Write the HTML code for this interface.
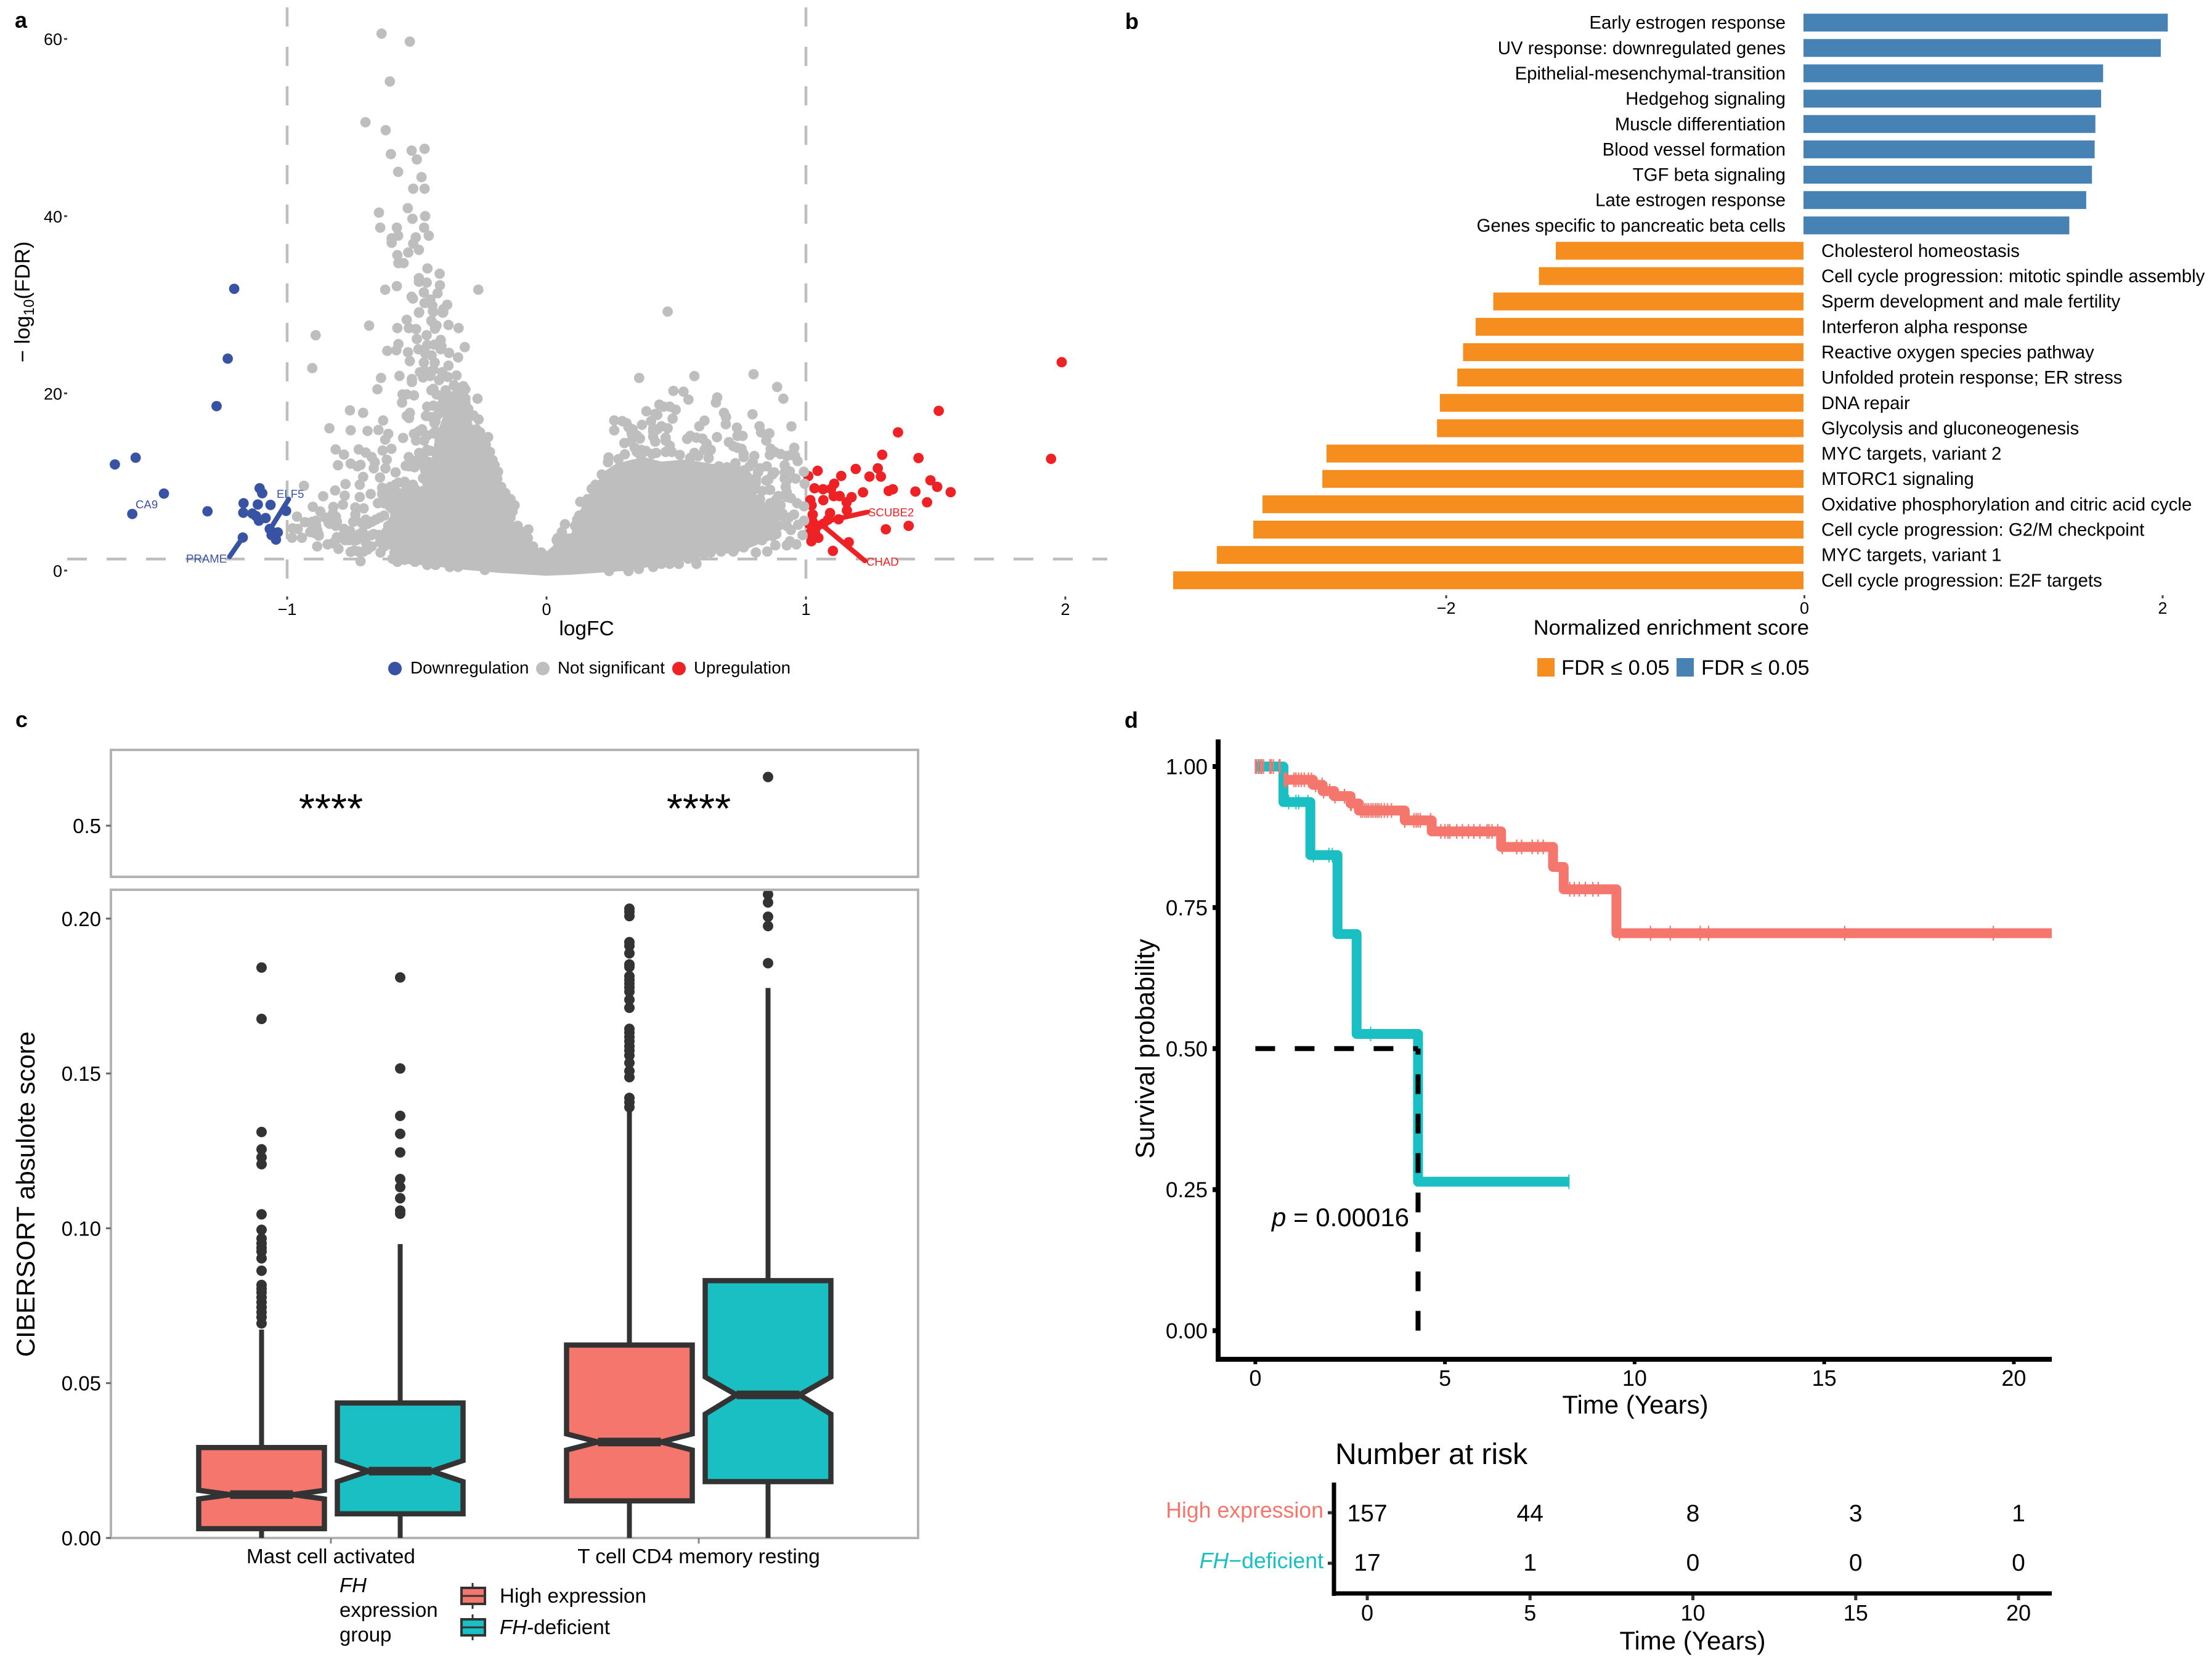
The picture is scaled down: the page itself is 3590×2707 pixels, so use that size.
<!DOCTYPE html>
<html lang="en">
<head>
<meta charset="utf-8">
<title>Panels a-d</title>
<style>
html,body{margin:0;padding:0;background:#fff;}
svg{display:block;}
text{font-family:"Liberation Sans",Arial,sans-serif;fill:#000;}
</style>
</head>
<body>
<svg id="figure" xmlns="http://www.w3.org/2000/svg" width="3590" height="2707" viewBox="0 0 3590 2707">
<rect x="0" y="0" width="3590" height="2707" fill="#fff"/>
<defs>
<clipPath id="boxClip"><rect x="180" y="1446" width="1310" height="1052"/></clipPath>
</defs>

<text x="24" y="45" font-size="36" font-weight="700">a</text>
<text x="1826" y="47" font-size="36" font-weight="700">b</text>
<text x="25" y="1180" font-size="36" font-weight="700">c</text>
<text x="1825" y="1181" font-size="36" font-weight="700">d</text>

<g id="panelA"></g>
<text x="952" y="1031" font-size="33.5" text-anchor="middle">logFC</text>
<text transform="translate(48,490) rotate(-90)" font-size="34.5" text-anchor="middle">− log<tspan font-size="24" dy="7">10</tspan><tspan dy="-7">(FDR)</tspan></text>
<circle cx="641" cy="1085" r="11" fill="#3953a4"/>
<text x="666" y="1093" font-size="27.7">Downregulation</text>
<circle cx="881" cy="1085" r="11" fill="#bebebe"/>
<text x="905" y="1093" font-size="27.7">Not significant</text>
<circle cx="1102" cy="1085" r="11" fill="#ee2124"/>
<text x="1126" y="1093" font-size="27.7">Upregulation</text>

<g id="panelB"></g>
<text x="2936" y="1030" font-size="34.4" text-anchor="end">Normalized enrichment score</text>
<rect x="2495" y="1068" width="28" height="30" fill="#f68d1f"/>
<text x="2534" y="1095" font-size="34.4">FDR ≤ 0.05</text>
<rect x="2721" y="1068" width="28" height="30" fill="#4682b4"/>
<text x="2761" y="1095" font-size="34.4">FDR ≤ 0.05</text>

<g id="panelC"></g>
<text transform="translate(56,1938) rotate(-90)" font-size="42" text-anchor="middle">CIBERSORT absulote score</text>
<text font-size="33"><tspan x="551" y="2584" font-style="italic">FH</tspan><tspan x="551" y="2624">expression</tspan><tspan x="551" y="2664">group</tspan></text>
<g>
<line x1="767" y1="2569" x2="767" y2="2611" stroke="#333" stroke-width="3"/>
<rect x="749" y="2577" width="38" height="26" fill="#f5766d" stroke="#333" stroke-width="4"/>
<line x1="749" y1="2590" x2="787" y2="2590" stroke="#333" stroke-width="3"/>
</g>
<text x="811" y="2601" font-size="33.2">High expression</text>
<g>
<line x1="767" y1="2620" x2="767" y2="2662" stroke="#333" stroke-width="3"/>
<rect x="749" y="2628" width="38" height="26" fill="#1abfc4" stroke="#333" stroke-width="4"/>
<line x1="749" y1="2641" x2="787" y2="2641" stroke="#333" stroke-width="3"/>
</g>
<text x="811" y="2652" font-size="33.2"><tspan font-style="italic">FH</tspan>-deficient</text>

<g id="panelD"></g>
<text transform="translate(1873,1702) rotate(-90)" font-size="42.5" text-anchor="middle">Survival probability</text>
<text x="2654" y="2294" font-size="42" text-anchor="middle">Time (Years)</text>
<text x="2064" y="1990" font-size="42"><tspan font-style="italic">p</tspan> = 0.00016</text>
<text x="2167" y="2376" font-size="48">Number at risk</text>
<text x="2148" y="2463" font-size="35.7" text-anchor="end" style="fill:#f5766d">High expression</text>
<text x="2148" y="2545" font-size="35.7" text-anchor="end" style="fill:#1abfc4"><tspan font-style="italic" style="fill:#1abfc4">FH</tspan>−deficient</text>
<text x="2747" y="2677" font-size="42" text-anchor="middle">Time (Years)</text>
</svg>

<script>
// ---------- Panel a data: [logFC, -log10(FDR)] ----------
const downPoints = [[-1.204,31.8],[-1.229,23.92],[-1.272,18.56],[-1.584,12.74],[-1.664,11.98],[-1.475,8.69],[-1.597,6.39],[-1.307,6.69],[-1.106,9.29],[-1.096,8.73],[-1.168,7.6],[-1.113,7.46],[-1.064,7.41],[-1.169,6.53],[-1.134,6.44],[-1.12,6.16],[-1.109,5.63],[-1.083,5.93],[-1.004,6.74],[-1.067,4.7],[-1.036,4.31],[-1.06,4.01],[-1.043,3.5],[-1.171,3.73]];
const upPoints = [[1.986,23.52],[1.512,18.03],[1.355,15.6],[1.294,13.07],[1.434,12.7],[1.945,12.61],[1.045,11.26],[1.009,10.66],[1.192,11.47],[1.277,11.54],[1.136,10.68],[1.245,10.61],[1.289,10.61],[1.109,9.8],[1.033,9.29],[1.066,9.18],[1.097,9.22],[1.48,10.19],[1.506,9.45],[1.558,8.85],[1.422,8.92],[1.335,9.18],[1.319,8.99],[1.22,8.83],[1.176,8.29],[1.13,8.41],[1.107,8.41],[1.067,7.95],[1.017,7.95],[1.022,7.37],[1.157,7.71],[1.467,7.71],[1.158,6.79],[1.093,6.49],[1.026,6.32],[1.126,5.79],[1.085,5.74],[1.026,5.51],[1.012,5.28],[1.044,5.05],[1.067,5.28],[1.396,5.05],[1.308,4.66],[1.017,4.24],[1.048,3.7],[1.035,4.35],[1.021,3.31],[1.165,3.2],[1.104,2.22]];
const notSigPoints = [[-.636,60.6],[-.527,59.7],[-.604,55.2],[-.698,50.6],[-.62,49.7],[-.6,47],[-.52,47.4],[-.47,47.6],[-.5,46.4],[-.572,45],[-.482,44.4],[-.514,43.1],[-.47,43.1],[-.535,40.9],[-.646,40.4],[-.517,39.7],[-.468,40],[-.641,38.7],[-.577,38.7],[-.472,38.7],[-.572,37.8],[-.597,37.5],[-.597,37],[-.454,37.8],[-.504,37.6],[-.514,36.9],[-.492,36.2],[-.533,35.9],[-.575,35.6],[-.571,34.7],[-.551,34.7],[-.459,34.1],[-.412,33.5],[-.492,33],[-.492,32.6],[-.462,32.5],[-.411,32.2],[-.577,32.1],[-.622,31.7],[-.263,31.7],[-.473,31.4],[-.42,31.3],[-.52,30.9],[-.515,30.7],[-.448,30.6],[-.47,30.2],[-.44,29.9],[-.383,30],[-.398,29.5],[-.4,29.1],[-.436,29.2],[-.492,29.1],[-.539,28.3],[-.444,28.2],
[-.89,26.56],[-.684,27.65],[-.903,22.85],[-.491,29.16],[-.438,29.27],[-.398,29.16],[-.442,28.1],[-.575,27.37],[-.531,27.37],[-.503,27.26],[-.424,27.65],[-.43,27.3],[-.378,27.72],[-.339,27.37],[-.462,26.56],[-.5,26.14],[-.408,26.03],[-.46,25.45],[-.432,25.5],[-.405,25.33],[-.408,24.98],[-.315,25.22],[-.571,25.56],[-.579,24.87],[-.614,24.8],[-.534,24.64],[-.494,24.98],[-.376,24.57],[-.341,24.06],[-.468,24.52],[-.443,24.29],[-.527,23.64],[-.473,23.48],[-.431,23.48],[-.378,23.13],[-.488,22.39],[-.469,22.55],[-.436,22.67],[-.402,22.39],[-.347,22.02],[-.476,21.79],[-.448,21.97],[-.381,21.85],[-.414,21.51],[-.638,21.74],[-.567,21.97],[-.519,21.62],[-.519,21.28],[-.652,20.46],[-.436,20.51],[-.357,20.93],[-.321,20.81],[-.313,20.46],[-.389,20.35],[-.266,19.4],[-.555,19.88],[-.511,19.77],[-.539,19.88],[-.557,18.96],[-.404,19.65],[-.365,19.65],[-.313,19.42],[-.313,18.96],[-.46,18.5],[-.436,18.61],[-.381,18.72],[-.341,18.5],[-.758,18.08],[-.707,17.8],[-.527,17.8],[-.539,17.45],[-.53,17.22],[-.465,17.45],[-.412,17.8],[-.333,17.8],[-.282,17.52],[-.262,17.06],[-.63,16.94],[-.381,17.1],[-.428,16.87],[-.837,16.06],[-.755,15.83],[-.648,15.87],[-.69,15.76],[-.61,15.43],[-.622,14.78],[-.553,14.97],[-.511,15.43],[-.48,15.94],[-.503,14.67],[-.472,14.67],[-.428,15.71],[-.381,16.18],[-.341,16.06],[-.298,15.6],[-.256,15.6],[-.225,15.06],[-.412,14.44],[-.813,13.67],[-.781,13.09],[-.724,13.67],[-.697,13.32],[-.674,12.81],[-.662,12.23],[-.632,13.55],[-.598,13.74],[-.616,12.51],[-.804,11.89],[-.755,12.07],[-.729,11.77],[-.717,11.93],[-.666,11.54],[-.621,11.54],[-.531,12.81],[-.491,13.28],[-.448,13.51],[-.507,12.35],[-.543,11.82],[-.509,11.66],[-.464,12.35],[-.582,11.08],[-.476,10.43],[-.642,10.5],[-.707,10.57],[-.2,11.89],[-.187,11.15],[-.935,9.57],[-.775,9.76],[-.72,9.69],[-.815,9.04],[-.861,8.39],[-.778,8.46],[-.72,8.3],[-.678,8.64],[-.583,9.69],[-.547,10.03],[-.515,9.69],[-.618,9.1],[-.634,8.64],[-.901,7.2],[-.872,6.67],[-.822,7.18],[-.785,7.44],[-.737,7.13],[-.705,7.02],[-.65,7.6],[-.962,6.09],[-.931,5.47],[-.888,5.63],[-.836,5.98],[-.812,6.09],[-.737,5.75],[-.697,5.75],[-.658,5.75],[-.626,6.21],[-.575,5.86],[-.979,4.77],[-.959,4.7],[-.911,4.35],[-.884,4.58],[-.84,5.4],[-.812,5.05],[-.781,4.7],[-.757,4.47],[-.721,4.12],[-.674,4.01],[-.618,4.35],[-.571,3.66],[-.981,3.7],[-.943,3.7],[-.878,3.94],[-.808,3.77],[-.777,3.66],[-.745,3.43],[-.697,3.2],[-.642,3.2],[-.61,2.96],[-.884,2.73],[-.844,2.96],[-.802,2.45],[-.755,2.11],[-.725,2.15],[-.69,2.38],[-.64,2.04],[-.717,1.06],[-.575,.99],[-.586,2.04],[-.07,4.64],[-.052,2.62],[-.017,1.92],
[.467,29.23],[.357,21.74],[.57,21.95],[.798,22.16],[.889,20.72],[.913,19.4],[.489,20.28],[.528,20.19],[.547,19.3],[.658,19.54],[.653,18.96],[.435,18.73],[.385,17.98],[.498,18.15],[.475,18.5],[.451,18.5],[.684,17.8],[.692,17.33],[.794,17.64],[.419,17.68],[.486,17.15],[.261,16.94],[.292,16.87],[.368,16.45],[.411,16],[.261,15.83],[.316,16.18],[.443,16.29],[.467,16.06],[.609,16.92],[.589,16.29],[.691,16.52],[.821,16.29],[.944,16.27],[.734,16.13],[.859,15.48],[.827,15.6],[.756,15.2],[.736,15.2],[.328,15.48],[.36,14.9],[.411,15.13],[.542,14.86],[.554,15.2],[.601,14.9],[.657,15.06],[.847,14.67],[.3,14.39],[.459,14.67],[.703,14.5],[.72,14.04],[.752,13.74],[.76,12.81],[.633,13.63],[.864,13.74],[.861,13.05],[.955,13.86],[.902,13.16],[.942,13.05],[.968,12.35],[.801,12.93],[.514,13.05],[.57,13.28],[.625,12.7],[.423,13.28],[.383,13.51],[.348,13.39],[.302,13.12],[.239,12.77],[.237,12.23],[.277,12.58],[.475,13.63],[.918,11.89],[.938,11.19],[.849,11.77],[.992,11.15],[.878,11.08],[.96,10.38],[.995,9.8],[.847,10.15],[.918,10.38],[.922,9.45],[.859,9.11],[.926,8.87],[.894,8.41],[.942,8.18],[.966,7.6],[.993,7.25],[.894,7.48],[.954,6.32],[.918,5.98],[.993,5.63],[.97,5.17],[.942,4.58],[.987,4],[.886,4.12],[.831,3.43],[.882,2.85],[.926,2.85],[.938,3.31],[.963,2.96],[.851,2.15],[.807,2.04],[.76,2.62],[.72,2.15],[.673,2.15],[.578,.76],[.51,.76],[.546,1.34],[.443,.76],[.13,7.76],[.071,5.23],[.059,4.35],[.043,3.66],[.118,5.74],[.201,9.57],[.225,10.61],[.807,10.38],[.807,9.22],[.859,6.09],[.823,11.54],[.728,12.12],[.665,11.77],[.696,11.66]];
const notSigCrowdedLeft = [[-.444,20.35],[-.424,19.88],[-.444,17.33],[-.42,17.57],[-.432,16.64],[-.404,18.73],[-.492,15.71],[-.46,15.25],[-.436,15.48],[-.412,14.78],[-.302,18.26],[-.298,17.33],[-.317,19.19],[-.333,20.35],[-.349,20.7],[-.325,16.64],[-.27,15.94],[-.242,14.78],[-.234,14.2],[-.218,13.39],[-.208,12.47],[-.19,10.38],[-.175,9.45],[-.159,8.76],[-.139,8.06],[-.123,7.37],[-.131,6.67],[-.139,5.98],[-.111,5.05],[-.092,4.35],[-.072,3.66],[-.052,2.73],[-.02,2.04],[-.46,13.63],[-.476,12.93],[-.452,12.23],[-.491,12],[-.468,11.31],[-.444,11.08],[-.46,9.92],[-.444,10.38],[-.523,12.35],[-.531,11.77],[-.634,9.34],[-.602,9.45],[-.571,9.92],[-.539,9.45],[-.507,9.22],[-.476,8.99],[-.618,8.53],[-.586,8.76],[-.555,8.64],[-.523,8.29],[-.491,8.06],[-.626,7.6],[-.594,7.83],[-.563,7.6],[-.531,7.37],[-.571,7.02],[-.539,6.67],[-.911,5.4],[-.888,5.05],[-.852,5.98],[-.836,5.28],[-.824,6.44],[-.808,5.51],[-.769,4.47],[-.753,4.01],[-.785,3.89],[-.812,3.43],[-.824,3.08],[-.737,6.32],[-.745,5.51],[-.713,5.4],[-.689,5.28],[-.674,5.51],[-.642,5.98],[-.709,4.35],[-.697,3.89],[-.666,4.12],[-.646,4.01],[-.626,4.01],[-.61,4.35],[-.61,3.42],[-.626,2.73],[-.674,2.73],[-.693,2.62],[-.705,2.15],[-.741,2.27],[-.777,3.43],[-.761,3.43],[-.733,3.43],[-.594,5.51],[-.61,5.05],[-.594,4.58],[-.575,4.12],[-.575,3.2],[-.594,1.34],[-.547,1.22],[-.507,.99],[-.46,.64],[-.428,.64],[-.373,.41],[-.341,.41],[-.238,.07],[-.895,4.24],[-.879,4.12],[-.903,5.51]];
const notSigCrowdedRight = [[.427,17.57],[.403,16.87],[.427,15.94],[.411,15.71],[.419,14.55],[.459,15],[.475,14.09],[.483,13.39],[.459,13.39],[.308,16.64],[.332,15.94],[.348,15.25],[.324,14.55],[.34,13.86],[.364,13.63],[.407,13.16],[.364,12.93],[.577,15],[.617,14.32],[.609,13.63],[.585,12.93],[.554,12.7],[.625,13.39],[.76,13.16],[.736,13.86],[.879,13.39],[.926,12.93],[.958,12.93],[.795,12.23],[.783,11.77],[.728,12],[.76,11.31],[.815,11.08],[.807,9.92],[.871,10.84],[.855,10.26],[.918,11.08],[.926,10.15],[.831,8.99],[.862,9.11],[.823,8.06],[.862,7.6],[.886,8.06],[.926,8.29],[.902,7.37],[.871,6.9],[.91,6.44],[.934,5.98],[.894,5.05],[.871,5.51],[.926,5.05],[.862,4.58],[.871,3.89],[.847,3.89],[.831,4.35],[.791,3.43],[.768,2.96],[.728,2.5],[.696,2.5],[.633,2.04],[.609,1.92],[.57,1.46],[.49,.99],[.475,.76],[.411,.41],[.356,.18],[.316,-.05],[.241,-.05],[.174,9.22],[.189,9.69],[.213,10.84],[.158,8.06],[.126,6.21],[.11,5.05],[.039,3.43]];
// Outline of the region where grey points overlap into a solid mass
const denseRegionOutline = [[-.428,14.78],[-.397,17.33],[-.412,19.65],[-.381,20.23],[-.325,19.88],[-.309,18.03],[-.286,16.41],[-.254,14.78],[-.234,13.86],[-.21,12.93],[-.206,11.77],[-.179,9.69],[-.151,8.76],[-.12,7.37],[-.131,5.51],[-.104,5.05],[-.068,3.89],[-.064,2.73],[-.016,2.04],[-.001,2.04],[.027,2.73],[.039,4.12],[.098,4.12],[.106,5.28],[.142,7.37],[.17,8.76],[.197,9.92],[.221,11.08],[.269,12],[.332,12.47],[.379,12.7],[.443,12.23],[.538,12.47],[.633,12],[.728,11.77],[.783,11.08],[.81,10],[.8,8.76],[.84,7.6],[.9,7],[.91,6],[.87,5],[.87,3.66],[.78,2.6],[.649,2.04],[.593,1.57],[.475,.88],[.316,.07],[.094,-.4],[-.001,-.51],[-.191,-.17],[-.341,.23],[-.46,.64],[-.571,.88],[-.595,2.04],[-.603,4.12],[-.6,6.44],[-.642,7.6],[-.634,9.22],[-.46,9.22],[-.444,12]];
const volcanoXTicks = [-1,0,1,2];
const volcanoYTicks = [0,20,40,60];
const fdrThreshold = [1.3];
const logfcThresholds = [-1,1];
const geneLabels = ['CA9','ELF5','PRAME','SCUBE2','CHAD'];

// ---------- Panel b data ----------
const upPathways = ['Early estrogen response','UV response: downregulated genes','Epithelial-mesenchymal-transition','Hedgehog signaling','Muscle differentiation','Blood vessel formation','TGF beta signaling','Late estrogen response','Genes specific to pancreatic beta cells'];
const upScores = [2.027,1.988,1.667,1.656,1.624,1.62,1.605,1.573,1.479];
const downPathways = ['Cholesterol homeostasis','Cell cycle progression: mitotic spindle assembly','Sperm development and male fertility','Interferon alpha response','Reactive oxygen species pathway','Unfolded protein response; ER stress','DNA repair','Glycolysis and gluconeogenesis','MYC targets, variant 2','MTORC1 signaling','Oxidative phosphorylation and citric acid cycle','Cell cycle progression: G2/M checkpoint','MYC targets, variant 1','Cell cycle progression: E2F targets'];
const downScores = [-1.378,-1.472,-1.726,-1.824,-1.894,-1.926,-2.023,-2.039,-2.654,-2.677,-3.01,-3.061,-3.264,-3.507];
const nesTicks = [-2,0,2];

// ---------- Panel c data ----------
const cellTypes = ['Mast cell activated','T cell CD4 memory resting'];
const boxGroups = ['high','deficient','high','deficient'];
const boxCategory = [0,0,1,1];
const boxLowerWhisker = [0,0,0,0];
const boxQ1 = [.003,.0078,.012,.0182];
const boxNotchLow = [.0126,.0182,.0284,.04];
const boxMedian = [.014,.0216,.031,.0462];
const boxNotchHigh = [.0154,.025,.0336,.052];
const boxQ3 = [.0292,.0436,.0623,.0831];
const boxUpperWhisker = [.0673,.0949,.1397,.1776];
const outliersMastHigh = [.1842,.1676,.1311,.1255,.1229,.1207,.1045,.0995,.0967,.0951,.0937,.0925,.0903,.0863,.0817,.0805,.0793,.0777,.0761,.0745,.0729,.0713,.0693];
const outliersMastDef = [.181,.1516,.1363,.1305,.1245,.1159,.1133,.1097,.1057,.1047];
const outliersCD4High = [.2032,.2022,.2008,.1924,.1912,.1888,.1852,.1844,.1814,.1802,.179,.1778,.1764,.1738,.1712,.1644,.1632,.1618,.1604,.1588,.1574,.1558,.1534,.1508,.1488,.1421,.1407,.1391];
const outliersCD4Def = [.2078,.2052,.2006,.1976,.1856];
const outlierTopPanel = [.66];
const boxYTicks = [0,.05,.10,.15,.20];
const boxTopTicks = [.5];
const significance = ['****','****'];

// ---------- Panel d data ----------
const highTimes = [0,.75,1.52,1.775,2.08,2.51,2.73,3.94,4.65,6.48,7.85,8.13,9.52];
const highSurvival = [1,.9765,.9675,.9565,.9475,.9345,.922,.9045,.885,.8575,.822,.7824,.7045];
const highEndTime = [21];
const defTimes = [0,.74,1.45,2.166,2.67,4.29];
const defSurvival = [1,.937,.843,.703,.526,.264];
const defEndTime = [8.27];
const highCensored = [0,.015,.075,.14,.17,.215,.38,.42,.475,.63,.65,.76,.78,.8,.82,1.02,1.07,1.14,1.21,1.29,1.4,1.48,1.59,1.76,1.8,1.96,2.1,2.35,2.51,2.53,2.78,2.83,2.89,2.94,2.99,3.05,3.1,3.16,3.21,3.26,3.32,3.4,3.48,3.59,3.94,4.18,4.24,4.29,4.35,4.62,4.89,5,5.08,5.13,5.31,5.46,5.62,5.76,5.92,6.11,6.16,6.24,6.39,6.51,6.89,7.02,7.3,7.45,7.59,8.29,8.41,8.54,8.7,8.9,9.04,9.6,10.42,10.94,11.73,11.95,15.54,19.46];
const defCensored = [.03,.1,.88,1.07,1.14,1.385,1.53,1.94,2.03,3.04,8.27];
const medianTime = [4.29];
const medianSurvival = [.5];
const survYTicks = [0,.25,.5,.75,1];
const survXTicks = [0,5,10,15,20];
const riskHigh = [157,44,8,3,1];
const riskDeficient = [17,1,0,0,0];

// ---------- Helpers ----------
const NS = 'http://www.w3.org/2000/svg';
function make(parent, tag, attrs, content) {
  const el = document.createElementNS(NS, tag);
  for (const k in attrs) el.setAttribute(k, attrs[k]);
  if (content !== undefined) el.textContent = content;
  parent.appendChild(el);
  return el;
}
const pathFrom = pts => pts.map((p, i) => (i ? 'L' : 'M') + p[0].toFixed(2) + ' ' + p[1].toFixed(2)).join(' ');

// ---------- Panel a ----------
const gA = document.getElementById('panelA');
const ax = v => 887 + 421 * v;
const ay = v => 926 - 14.38 * v;
const DOT_R = 8.4;
fdrThreshold.forEach(v => {
  const l = make(gA, 'line', {x1: 109, x2: 1797, y1: ay(v), y2: ay(v), stroke: '#bebebe', 'stroke-width': 4.5, 'stroke-dasharray': '32 32'});
  
  
});
logfcThresholds.forEach(v => {
  const l = make(gA, 'line', {x1: ax(v), x2: ax(v), y1: 12, y2: 968, stroke: '#bebebe', 'stroke-width': 4.5, 'stroke-dasharray': '31 33'});
  
  
});
volcanoYTicks.forEach(v => {
  const t = make(gA, 'rect', {x: 104, y: ay(v) - 1.5, width: 5, height: 3, fill: '#444'});
  
  
  const s = make(gA, 'text', {x: 101, y: ay(v) + 10, 'font-size': 27, 'text-anchor': 'end'}, String(v));
  
  
});
volcanoXTicks.forEach(v => {
  const t = make(gA, 'rect', {x: ax(v) - 1.5, y: 968, width: 3, height: 5, fill: '#444'});
  
  
  const s = make(gA, 'text', {x: ax(v), y: 998, 'font-size': 27, 'text-anchor': 'middle'}, String(v).replace('-', '−'));
  
  
});
upPoints.forEach(p => {
  const c = make(gA, 'circle', {cx: ax(p[0]), cy: ay(p[1]), r: DOT_R, fill: '#ee2124'});
  
  
});
downPoints.forEach(p => {
  const c = make(gA, 'circle', {cx: ax(p[0]), cy: ay(p[1]), r: DOT_R, fill: '#3953a4'});
  
  
});
const dense = make(gA, 'path', {d: pathFrom(denseRegionOutline.map(p => [ax(p[0]), ay(p[1])])) + ' Z', fill: '#bebebe', stroke: '#bebebe', 'stroke-width': 2, 'stroke-linejoin': 'round'});


notSigPoints.concat(notSigCrowdedLeft, notSigCrowdedRight).forEach(p => {
  const c = make(gA, 'circle', {cx: ax(p[0]), cy: ay(p[1]), r: DOT_R, fill: '#bebebe'});
  
  
});
// connector lines: gene point to label
const conn = [
  [[-1.171,3.73],[-1.222,1.57],'#3953a4'],
  [[-.994,8.06],[-1.065,4.7],'#3953a4'],
  [[1.071,5.51],[1.237,6.6],'#ee2124'],
  [[1.071,4.93],[1.227,1.11],'#ee2124']
];
conn.forEach(c => {
  const l = make(gA, 'line', {x1: ax(c[0][0]), y1: ay(c[0][1]), x2: ax(c[1][0]), y2: ay(c[1][1]), stroke: c[2], 'stroke-width': 8, 'stroke-linecap': 'round'});
  
  
});
const labelSpots = [[220,825,'#3953a4'],[449,808,'#3953a4'],[302,913,'#3953a4'],[1409,838,'#ee2124'],[1406,918,'#ee2124']];
geneLabels.forEach((g, i) => {
  const s = make(gA, 'text', {x: labelSpots[i][0], y: labelSpots[i][1], 'font-size': 18.6, style: 'fill:' + labelSpots[i][2]}, g);
  
  
});

// ---------- Panel b ----------
const gB = document.getElementById('panelB');
const bx = v => 2927 + 291.7 * v;
const tickX = v => 2928.5 + 290.7 * v;
const rowY = i => 36.7 + 41.14 * i;
upScores.forEach((v, i) => {
  const r = make(gB, 'rect', {x: bx(0), y: rowY(i) - 14.5, width: bx(v) - bx(0), height: 29, fill: '#4682b4'});
  
  
  const s = make(gB, 'text', {x: 2898, y: rowY(i) + 10, 'font-size': 29.4, 'text-anchor': 'end'}, upPathways[i]);
  
  
});
downScores.forEach((v, i) => {
  const y = rowY(i + upScores.length);
  const r = make(gB, 'rect', {x: bx(v), y: y - 14.5, width: bx(0) - bx(v), height: 29, fill: '#f68d1f'});
  
  
  const s = make(gB, 'text', {x: 2956, y: y + 10, 'font-size': 29.4}, downPathways[i]);
  
  
});
nesTicks.forEach(v => {
  const t = make(gB, 'rect', {x: tickX(v) - 1.5, y: 966, width: 3, height: 5, fill: '#444'});
  
  
  const s = make(gB, 'text', {x: tickX(v), y: 996, 'font-size': 27, 'text-anchor': 'middle'}, String(v).replace('-', '−'));
  
  
});

// ---------- Panel c ----------
const gC = document.getElementById('panelC');
const cy = v => 2496 - 5026 * v;
const cyTop = v => 1340 - 494 * (v - .5);
const catX = i => 537 + 597 * i;
const boxX = i => catX(boxCategory[i]) + (boxGroups[i] === 'high' ? -112.5 : 112.5);
const frameTop = make(gC, 'rect', {x: 180, y: 1217, width: 1310, height: 206, fill: 'none', stroke: '#b3b3b3', 'stroke-width': 4});


const frameBottom = make(gC, 'rect', {x: 180, y: 1444, width: 1310, height: 1052, fill: 'none', stroke: '#b3b3b3', 'stroke-width': 4});


boxYTicks.forEach(v => {
  const t = make(gC, 'line', {x1: 172, x2: 180, y1: cy(v), y2: cy(v), stroke: '#666', 'stroke-width': 3});
  
  
  const s = make(gC, 'text', {x: 164, y: cy(v) + 12, 'font-size': 33, 'text-anchor': 'end'}, v.toFixed(2));
  
  
});
boxTopTicks.forEach(v => {
  const t = make(gC, 'line', {x1: 172, x2: 180, y1: cyTop(v), y2: cyTop(v), stroke: '#666', 'stroke-width': 3});
  
  
  const s = make(gC, 'text', {x: 164, y: cyTop(v) + 12, 'font-size': 33, 'text-anchor': 'end'}, v.toFixed(1));
  
  
});
cellTypes.forEach((c, i) => {
  const t = make(gC, 'line', {x1: catX(i), x2: catX(i), y1: 2496, y2: 2505, stroke: '#888', 'stroke-width': 3});
  
  
  const s = make(gC, 'text', {x: catX(i), y: 2537, 'font-size': 33.3, 'text-anchor': 'middle'}, c);
  
  
  const star = make(gC, 'text', {x: catX(i), y: 1335, 'font-size': 67, 'text-anchor': 'middle'}, significance[i]);
  
  
});
const allOutliers = [outliersMastHigh, outliersMastDef, outliersCD4High, outliersCD4Def];
const clipG = make(gC, 'g', {'clip-path': 'url(#boxClip)'});


boxMedian.forEach((m, i) => {
  const x = boxX(i), hw = 102, nw = 51;
  const fill = boxGroups[i] === 'high' ? '#f5766d' : '#1abfc4';
  const wu = make(clipG, 'line', {x1: x, x2: x, y1: cy(boxQ3[i]), y2: cy(boxUpperWhisker[i]), stroke: '#333', 'stroke-width': 8});
  
  
  const wl = make(clipG, 'line', {x1: x, x2: x, y1: cy(boxQ1[i]), y2: cy(boxLowerWhisker[i]), stroke: '#333', 'stroke-width': 8});
  
  
  const pts = [[x-hw,cy(boxQ3[i])],[x+hw,cy(boxQ3[i])],[x+hw,cy(boxNotchHigh[i])],[x+nw,cy(m)],[x+hw,cy(boxNotchLow[i])],[x+hw,cy(boxQ1[i])],[x-hw,cy(boxQ1[i])],[x-hw,cy(boxNotchLow[i])],[x-nw,cy(m)],[x-hw,cy(boxNotchHigh[i])]];
  const b = make(clipG, 'path', {d: pathFrom(pts) + ' Z', fill: fill, stroke: '#333', 'stroke-width': 8.5, 'stroke-linejoin': 'miter'});
  
  
  const med = make(clipG, 'line', {x1: x-nw, x2: x+nw, y1: cy(m), y2: cy(m), stroke: '#333', 'stroke-width': 14});
  
  
  allOutliers[i].forEach(v => {
    const c = make(clipG, 'circle', {cx: x, cy: cy(v), r: 8.5, fill: '#333'});
    
    
  });
});
outlierTopPanel.forEach(v => {
  const c = make(gC, 'circle', {cx: boxX(3), cy: cyTop(v), r: 8.5, fill: '#333'});
  
  
});

// ---------- Panel d ----------
const gD = document.getElementById('panelD');
const dx = t => 2037.4 + 61.55 * t;
const dy = s => 2159.5 - 915.5 * s;
const stepAt = (times, surv, t) => { let v = surv[0]; times.forEach((tt, i) => { if (t >= tt) v = surv[i]; }); return v; };
function stepPath(times, surv, end) {
  const pts = [];
  times.forEach((t, i) => {
    if (i) pts.push([dx(t), dy(surv[i - 1])]);
    pts.push([dx(t), dy(surv[i])]);
  });
  pts.push([dx(end), dy(surv[surv.length - 1])]);
  return pathFrom(pts);
}
const CURVE_W = 16;
const highStart = make(gD, 'line', {x1: dx(highTimes[0]), x2: dx(highTimes[1]), y1: dy(highSurvival[0]), y2: dy(highSurvival[0]), stroke: '#f5766d', 'stroke-width': CURVE_W});


const defCurve = make(gD, 'path', {d: stepPath(defTimes, defSurvival, defEndTime[0]), fill: 'none', stroke: '#1abfc4', 'stroke-width': CURVE_W, 'stroke-linejoin': 'round'});


defCensored.forEach(t => {
  const s = stepAt(defTimes, defSurvival, t);
  const l = make(gD, 'line', {x1: dx(t), x2: dx(t), y1: dy(s) - 12, y2: dy(s) + 12, stroke: '#1abfc4', 'stroke-width': 1.8});
  
  
});
const highCurve = make(gD, 'path', {d: stepPath(highTimes.slice(1), highSurvival.slice(1), highEndTime[0]), fill: 'none', stroke: '#f5766d', 'stroke-width': CURVE_W, 'stroke-linejoin': 'round'});


highCensored.forEach(t => {
  const s = stepAt(highTimes, highSurvival, t);
  const l = make(gD, 'line', {x1: dx(t), x2: dx(t), y1: dy(s) - 12, y2: dy(s) + 12, stroke: '#f5766d', 'stroke-width': 2.2});
  
  
});
const medH = make(gD, 'line', {x1: dx(0), x2: dx(medianTime[0]), y1: dy(medianSurvival[0]), y2: dy(medianSurvival[0]), stroke: '#000', 'stroke-width': 8, 'stroke-dasharray': '32 32'});


const medV = make(gD, 'line', {x1: dx(medianTime[0]), x2: dx(medianTime[0]), y1: dy(0), y2: dy(medianSurvival[0]), stroke: '#000', 'stroke-width': 8, 'stroke-dasharray': '32 32'});


const axisLeft = make(gD, 'line', {x1: 1977, x2: 1977, y1: 1200, y2: 2210, stroke: '#000', 'stroke-width': 8});


const axisBottom = make(gD, 'line', {x1: 1973, x2: 3330, y1: 2206, y2: 2206, stroke: '#000', 'stroke-width': 8});


survYTicks.forEach(v => {
  const t = make(gD, 'line', {x1: 1968, x2: 1977, y1: dy(v), y2: dy(v), stroke: '#000', 'stroke-width': 8});
  
  
  const s = make(gD, 'text', {x: 1960, y: dy(v) + 12.5, 'font-size': 35, 'text-anchor': 'end'}, v.toFixed(2));
  
  
});
survXTicks.forEach(v => {
  const t = make(gD, 'line', {x1: dx(v), x2: dx(v), y1: 2206, y2: 2214, stroke: '#000', 'stroke-width': 6});
  
  
  const s = make(gD, 'text', {x: dx(v), y: 2249, 'font-size': 36, 'text-anchor': 'middle'}, String(v));
  
  
});
const rx = i => 2219 + 264.25 * i;
const riskLeft = make(gD, 'line', {x1: 2165, x2: 2165, y1: 2406, y2: 2590, stroke: '#000', 'stroke-width': 7});


const riskBottom = make(gD, 'line', {x1: 2162, x2: 3330, y1: 2586, y2: 2586, stroke: '#000', 'stroke-width': 7});


[2455, 2537].forEach(y => {
  const t = make(gD, 'line', {x1: 2155, x2: 2162, y1: y, y2: y, stroke: '#333', 'stroke-width': 5});
  
  
});
survXTicks.forEach((v, i) => {
  const t = make(gD, 'line', {x1: rx(i), x2: rx(i), y1: 2589, y2: 2597, stroke: '#333', 'stroke-width': 5});
  
  
  const s = make(gD, 'text', {x: rx(i), y: 2630, 'font-size': 36, 'text-anchor': 'middle'}, String(v));
  
  
  const a = make(gD, 'text', {x: rx(i), y: 2469, 'font-size': 39, 'text-anchor': 'middle'}, String(riskHigh[i]));
  
  
  const b = make(gD, 'text', {x: rx(i), y: 2549, 'font-size': 39, 'text-anchor': 'middle'}, String(riskDeficient[i]));
  
  
});
</script>
</body>
</html>
